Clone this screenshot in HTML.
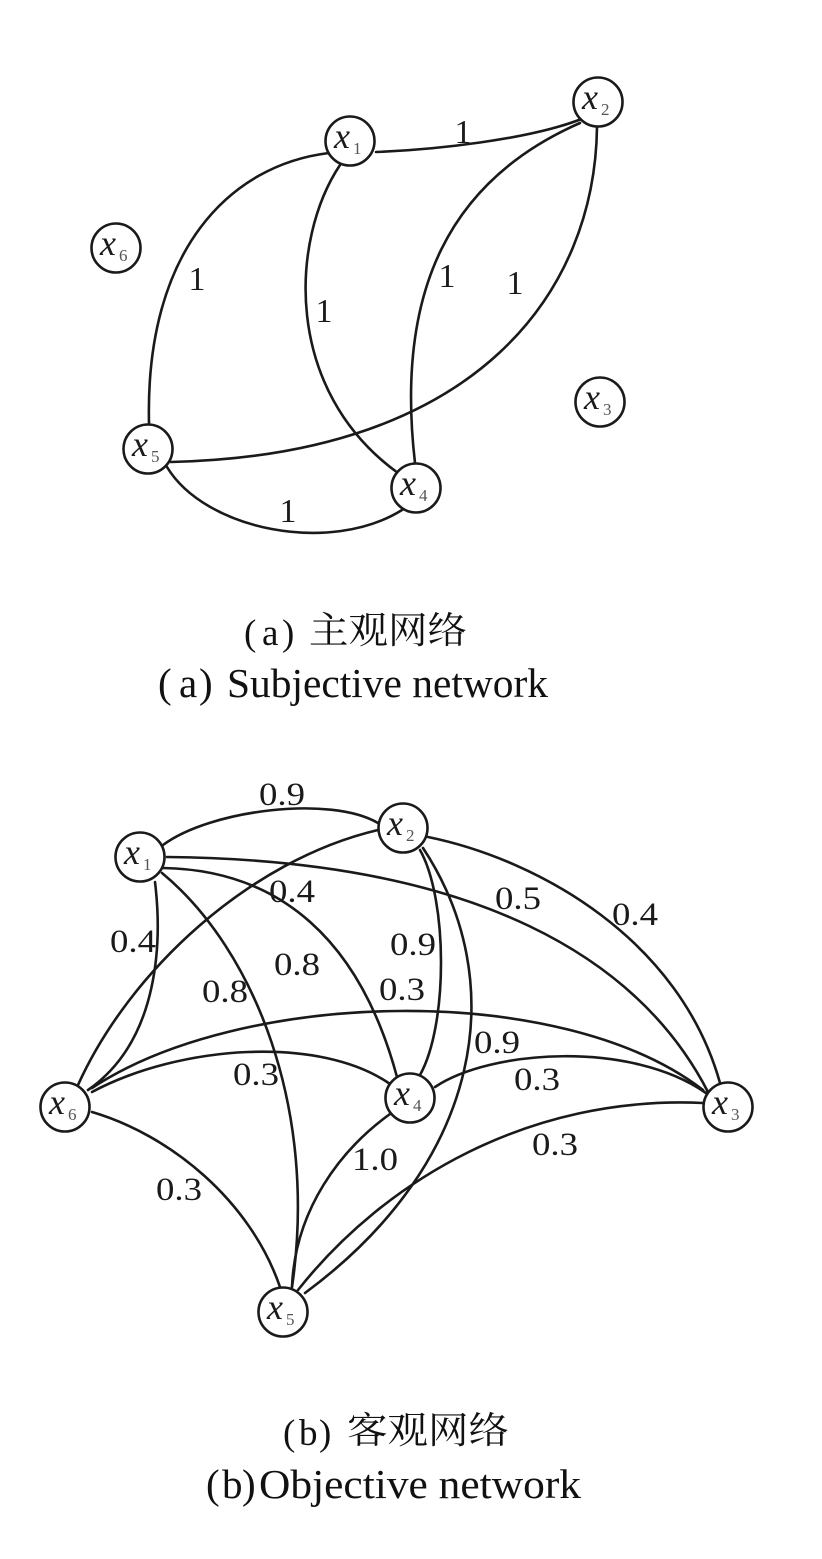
<!DOCTYPE html>
<html>
<head>
<meta charset="utf-8">
<style>
  html,body{margin:0;padding:0;background:#fff;}
  svg{display:block;}
  .e{fill:none;stroke:#1a1a1a;stroke-width:2.6;stroke-linecap:round;}
  .n{fill:#fff;stroke:#1a1a1a;stroke-width:2.6;}
  .lbl{font-family:"Liberation Serif",serif;fill:#1a1a1a;}
  .nx{font-family:"Liberation Serif",serif;font-style:italic;font-size:36px;fill:#1a1a1a;}
  .ns{font-family:"Liberation Serif",serif;font-size:17px;fill:#555;}
  .cap{font-family:"Liberation Serif",serif;fill:#111;}
  .cjk{font-family:"Liberation Serif","Noto Serif CJK SC","Noto Sans CJK SC",serif;fill:#111;}
</style>
</head>
<body>
<svg width="822" height="1559" viewBox="0 0 822 1559" xmlns="http://www.w3.org/2000/svg">
<rect width="822" height="1559" fill="#fff"/>

<!-- ===== Top graph: edges ===== -->
<path class="e" d="M376,152 C430,150 530,140 584,118"/>
<path class="e" d="M329,153 C230,165 145,250 149,423"/>
<path class="e" d="M340,165 C290,240 283,390 398,473"/>
<path class="e" d="M580,123 C450,180 395,290 415,463"/>
<path class="e" d="M597,127 C595,290 480,455 171,462"/>
<path class="e" d="M167,467 C205,530 330,555 402,510"/>

<!-- top labels -->
<g class="lbl" font-size="34" text-anchor="middle">
  <text x="463" y="143">1</text>
  <text x="197" y="290">1</text>
  <text x="324" y="322">1</text>
  <text x="447" y="287">1</text>
  <text x="515" y="294">1</text>
  <text x="288" y="522">1</text>
</g>

<!-- top nodes -->
<g>
  <circle class="n" cx="350" cy="141" r="24.5"/>
  <circle class="n" cx="598" cy="102" r="24.5"/>
  <circle class="n" cx="116" cy="248" r="24.5"/>
  <circle class="n" cx="600" cy="402" r="24.5"/>
  <circle class="n" cx="148" cy="449" r="24.5"/>
  <circle class="n" cx="416" cy="488" r="24.5"/>
</g>
<g>
  <text class="nx" x="334" y="148">x</text><text class="ns" x="353" y="154">1</text>
  <text class="nx" x="582" y="109">x</text><text class="ns" x="601" y="115">2</text>
  <text class="nx" x="100" y="255">x</text><text class="ns" x="119" y="261">6</text>
  <text class="nx" x="584" y="409">x</text><text class="ns" x="603" y="415">3</text>
  <text class="nx" x="132" y="456">x</text><text class="ns" x="151" y="462">5</text>
  <text class="nx" x="400" y="495">x</text><text class="ns" x="419" y="501">4</text>
</g>

<!-- top captions -->
<text class="cap" font-size="37" x="244" y="645">(</text>
<text class="cap" font-size="37" x="262" y="645">a</text>
<text class="cap" font-size="37" x="282" y="645">)</text>
<text class="cjk" font-size="37" x="309" y="643" textLength="158" lengthAdjust="spacingAndGlyphs">主观网络</text>

<text class="cap" font-size="41" x="158" y="697">(</text>
<text class="cap" font-size="41" x="179" y="697">a</text>
<text class="cap" font-size="41" x="199" y="697">)</text>
<text class="cap" font-size="41" x="227" y="697" textLength="321" lengthAdjust="spacingAndGlyphs">Subjective network</text>

<!-- ===== Bottom graph: edges ===== -->
<path class="e" d="M163,845 C210,810 330,795 378,823"/>
<path class="e" d="M167,857 C480,860 640,960 708,1092"/>
<path class="e" d="M428,837 C540,860 680,940 720,1083"/>
<path class="e" d="M155,882 C162,940 160,1040 88,1090"/>
<path class="e" d="M78,1085 C130,970 250,860 378,830"/>
<path class="e" d="M163,868 C280,870 360,940 397,1077"/>
<path class="e" d="M162,873 C255,950 318,1110 292,1287"/>
<path class="e" d="M420,850 C448,900 448,1025 420,1075"/>
<path class="e" d="M423,848 C510,980 485,1160 305,1293"/>
<path class="e" d="M92,1088 C240,990 560,980 703,1090"/>
<path class="e" d="M92,1092 C180,1045 320,1035 390,1084"/>
<path class="e" d="M435,1087 C490,1050 630,1040 706,1093"/>
<path class="e" d="M298,1290 C385,1180 530,1095 703,1103"/>
<path class="e" d="M92,1112 C170,1135 250,1200 280,1287"/>
<path class="e" d="M390,1114 C340,1150 295,1210 292,1287"/>

<!-- bottom labels -->
<g class="lbl" font-size="33" text-anchor="middle">
  <text x="282" y="805" textLength="46" lengthAdjust="spacingAndGlyphs">0.9</text>
  <text x="133" y="952" textLength="46" lengthAdjust="spacingAndGlyphs">0.4</text>
  <text x="292" y="902" textLength="46" lengthAdjust="spacingAndGlyphs">0.4</text>
  <text x="518" y="909" textLength="46" lengthAdjust="spacingAndGlyphs">0.5</text>
  <text x="635" y="925" textLength="46" lengthAdjust="spacingAndGlyphs">0.4</text>
  <text x="413" y="955" textLength="46" lengthAdjust="spacingAndGlyphs">0.9</text>
  <text x="297" y="975" textLength="46" lengthAdjust="spacingAndGlyphs">0.8</text>
  <text x="225" y="1002" textLength="46" lengthAdjust="spacingAndGlyphs">0.8</text>
  <text x="402" y="1000" textLength="46" lengthAdjust="spacingAndGlyphs">0.3</text>
  <text x="497" y="1053" textLength="46" lengthAdjust="spacingAndGlyphs">0.9</text>
  <text x="256" y="1085" textLength="46" lengthAdjust="spacingAndGlyphs">0.3</text>
  <text x="537" y="1090" textLength="46" lengthAdjust="spacingAndGlyphs">0.3</text>
  <text x="375" y="1170" textLength="46" lengthAdjust="spacingAndGlyphs">1.0</text>
  <text x="555" y="1155" textLength="46" lengthAdjust="spacingAndGlyphs">0.3</text>
  <text x="179" y="1200" textLength="46" lengthAdjust="spacingAndGlyphs">0.3</text>
</g>

<!-- bottom nodes -->
<g>
  <circle class="n" cx="140" cy="857" r="24.5"/>
  <circle class="n" cx="403" cy="828" r="24.5"/>
  <circle class="n" cx="728" cy="1107" r="24.5"/>
  <circle class="n" cx="410" cy="1098" r="24.5"/>
  <circle class="n" cx="283" cy="1312" r="24.5"/>
  <circle class="n" cx="65" cy="1107" r="24.5"/>
</g>
<g>
  <text class="nx" x="124" y="864">x</text><text class="ns" x="143" y="870">1</text>
  <text class="nx" x="387" y="835">x</text><text class="ns" x="406" y="841">2</text>
  <text class="nx" x="712" y="1114">x</text><text class="ns" x="731" y="1120">3</text>
  <text class="nx" x="394" y="1105">x</text><text class="ns" x="413" y="1111">4</text>
  <text class="nx" x="267" y="1319">x</text><text class="ns" x="286" y="1325">5</text>
  <text class="nx" x="49" y="1114">x</text><text class="ns" x="68" y="1120">6</text>
</g>

<!-- bottom captions -->
<text class="cap" font-size="37" x="283" y="1445">(</text>
<text class="cap" font-size="37" x="299" y="1445">b</text>
<text class="cap" font-size="37" x="319" y="1445">)</text>
<text class="cjk" font-size="37" x="347" y="1443" textLength="162" lengthAdjust="spacingAndGlyphs">客观网络</text>

<text class="cap" font-size="41" x="206" y="1498">(</text>
<text class="cap" font-size="41" x="222" y="1498">b</text>
<text class="cap" font-size="41" x="242" y="1498">)</text>
<text class="cap" font-size="41" x="259" y="1498" textLength="322" lengthAdjust="spacingAndGlyphs">Objective network</text>

</svg>
</body>
</html>
